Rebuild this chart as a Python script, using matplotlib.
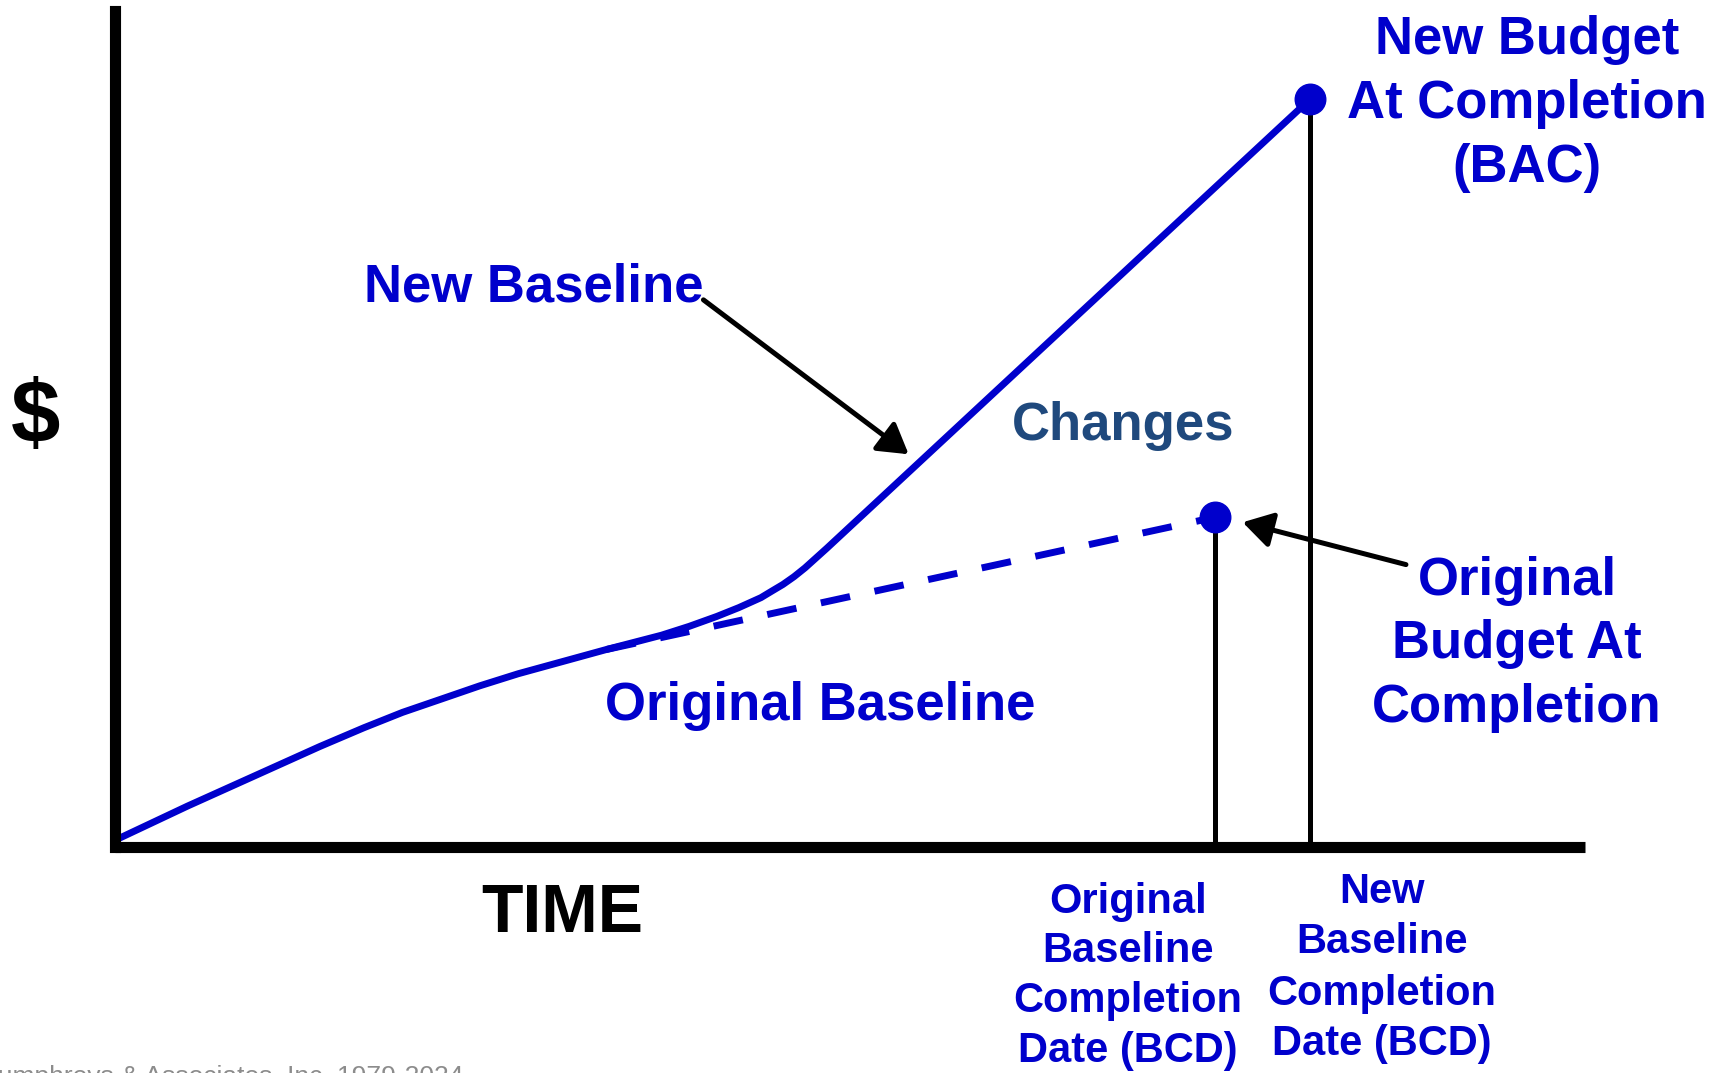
import matplotlib
matplotlib.use("Agg")
import matplotlib.pyplot as plt

plt.rcParams['font.family'] = ['Liberation Sans', 'DejaVu Sans']

# new baseline curve (time, $) in arbitrary units 0-100
new_t = [0, 4.93, 10.93, 13.93, 16.93, 19.56, 22.18, 24.81, 27.43, 30.43, 33.43,
         37.18, 39.06, 40.94, 42.44, 43.94, 44.69, 45.44, 46.19, 46.94, 47.69,
         48.44, 81.29]
new_v = [0.8, 4.86, 9.58, 11.94, 14.17, 16.00, 17.57, 19.15, 20.59, 22.03, 23.47,
         25.17, 26.22, 27.40, 28.45, 29.63, 30.42, 31.20, 32.12, 33.17, 34.35,
         35.53, 88.86]

# original baseline (dashed part after the split)
orig_t = [33.43, 74.84]
orig_v = [23.47, 39.19]

# completion points
new_bac = (81.29, 88.86)
orig_bac = (74.84, 39.19)

blue = '#0000cc'
navy = '#1f497d'

fig = plt.figure(figsize=(17.29, 10.73), dpi=100)
ax = fig.add_axes([115 / 1729, 226 / 1073, 1470 / 1729, 836 / 1073])
ax.set_xlim(0, 100)
ax.set_ylim(0, 100 * 836 / 841.5)
for s in ['top', 'right']:
    ax.spines[s].set_visible(False)
for s in ['left', 'bottom']:
    ax.spines[s].set_linewidth(8)
    ax.spines[s].set_color('black')
ax.spines['left'].set_capstyle('projecting')
ax.spines['bottom'].set_capstyle('butt')
ax.set_xticks([])
ax.set_yticks([])

# lines
ax.plot(orig_t, orig_v, color=blue, lw=5, ls=(0, (4.3, 3.6)), clip_on=False)
ax.plot(new_t, new_v, color=blue, lw=5, solid_capstyle='round',
        solid_joinstyle='round', clip_on=False)

# drop lines to the time axis
ax.plot([orig_bac[0], orig_bac[0]], [0, orig_bac[1]], color='black', lw=3.6)
ax.plot([new_bac[0], new_bac[0]], [0, new_bac[1]], color='black', lw=3.6)

ax.plot(*orig_bac, 'o', color=blue, ms=22, clip_on=False, zorder=5)
ax.plot(*new_bac, 'o', color=blue, ms=22, clip_on=False, zorder=5)

# arrows
arrow = dict(arrowstyle='-|>,head_length=0.6,head_width=0.36', color='black',
             lw=3.6, mutation_scale=30, shrinkA=0, shrinkB=0)
ax.annotate('', xy=(53.99, 46.67), xytext=(40.03, 65.02), arrowprops=arrow)
ax.annotate('', xy=(76.71, 38.59), xytext=(87.82, 33.56), arrowprops=arrow)


def label(x, ys, lines, size, color=blue):
    for y, line in zip(ys, lines):
        ax.text(x, y, line, ha='center', va='baseline', fontsize=size,
                fontweight='bold', color=color, clip_on=False)


label(96.05, [94.2, 86.6, 79.0], ['New Budget', 'At Completion', '(BAC)'], 38)
label(95.37, [29.95, 22.46, 14.85], ['Original', 'Budget At', 'Completion'], 38)
label(28.5, [64.77], ['New Baseline'], 38)
label(68.57, [48.37], ['Changes'], 38, navy)
label(47.96, [15.09], ['Original Baseline'], 38)
label(68.91, [-7.84, -13.67, -19.61, -25.55],
      ['Original', 'Baseline', 'Completion', 'Date (BCD)'], 30)
label(86.19, [-6.65, -12.60, -18.78, -24.72],
      ['New', 'Baseline', 'Completion', 'Date (BCD)'], 30)

# axis titles
ax.text(30.4, -10.1, 'TIME', ha='center', va='baseline', fontsize=49,
        fontweight='bold', color='black', clip_on=False)
ax.text(-5.44, 50.86, '$', ha='center', va='center', fontsize=64,
        fontweight='bold', color='black', clip_on=False)

# copyright line, cut off by the page edge as in the original slide
fig.text(463 / 1729, -0.0103, '\u00a9 Humphreys & Associates, Inc. 1979-2024',
         ha='right', va='baseline', fontsize=19, color='#8c8c8c')

fig.savefig('out.png', dpi=100)
